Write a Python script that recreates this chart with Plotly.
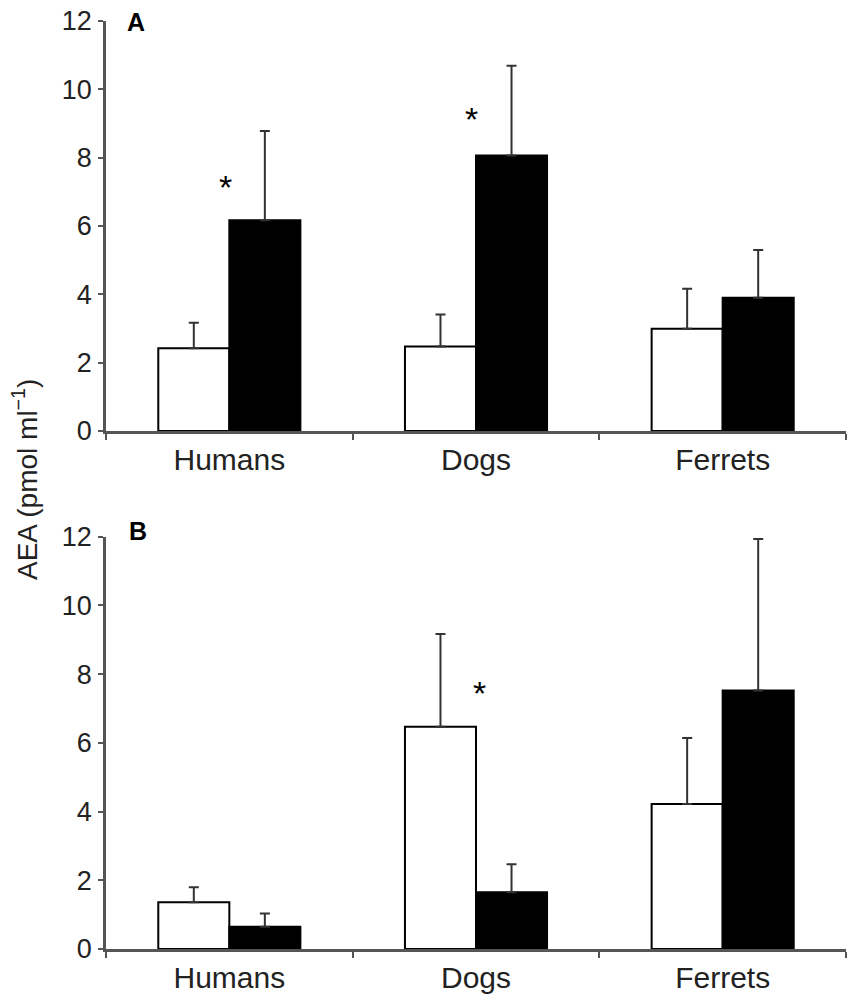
import plotly.graph_objects as go

categories = ["Humans", "Dogs", "Ferrets"]

# Panel A
a_white = [2.42, 2.47, 2.99]
a_white_err = [0.75, 0.94, 1.17]
a_black = [6.17, 8.06, 3.90]
a_black_err = [2.61, 2.63, 1.40]

# Panel B
b_white = [1.36, 6.47, 4.22]
b_white_err = [0.44, 2.70, 1.92]
b_black = [0.65, 1.65, 7.52]
b_black_err = [0.38, 0.82, 4.41]

y_ticks = [0, 2, 4, 6, 8, 10, 12]
y_title = "AEA (pmol ml<sup>\u22121</sup>)"

FONT = "Liberation Sans, Arial, sans-serif"
AX = "#555555"
TXT = "#222222"

fig = go.Figure()

def add_pair(white, werr, black, berr, xa, ya):
    for vals, errs, fill in ((white, werr, "white"), (black, berr, "black")):
        fig.add_trace(go.Bar(
            x=categories, y=vals, xaxis=xa, yaxis=ya,
            marker=dict(color=fill, line=dict(color="black", width=2)),
            error_y=dict(type="data", symmetric=False, array=errs,
                         arrayminus=[0] * len(errs), color="#333333",
                         thickness=2, width=5),
            showlegend=False,
        ))

add_pair(a_white, a_white_err, a_black, a_black_err, "x", "y")
add_pair(b_white, b_white_err, b_black, b_black_err, "x2", "y2")

xcommon = dict(type="category", categoryorder="array", categoryarray=categories,
               showline=True, linecolor=AX, linewidth=2.5, ticks="outside",
               tickson="boundaries", ticklen=6, tickwidth=2, tickcolor=AX,
               showgrid=False, zeroline=False, automargin=False,
               ticklabeloverflow="allow",
               tickfont=dict(family=FONT, size=30, color=TXT), range=[-0.5, 2.5])
ycommon = dict(range=[0, 12], tickvals=y_ticks, ticktext=[str(v) for v in y_ticks],
               showline=True, linecolor=AX, linewidth=2.5, ticks="outside",
               ticklen=5, tickwidth=2, tickcolor=AX, showgrid=False, zeroline=False,
               automargin=False, ticklabeloverflow="allow",
               tickfont=dict(family=FONT, size=27, color=TXT), ticklabelstandoff=1)

OFF = 8  # page body margin

fig.update_layout(
    width=859, height=1000,
    margin=dict(l=98, r=21, t=13, b=59, autoexpand=False),
    plot_bgcolor="white", paper_bgcolor="white",
    barmode="group", bargap=0.424, bargroupgap=0,
    xaxis=dict(xcommon, domain=[0, 1], anchor="y"),
    yaxis=dict(ycommon, domain=[0.5582, 1], anchor="x"),
    xaxis2=dict(xcommon, domain=[0, 1], anchor="y2"),
    yaxis2=dict(ycommon, domain=[0, 0.4443], anchor="x2"),
)

def py(t):
    return (941 - (t - OFF)) / 928

def px(t):
    return ((t - OFF) - 98) / 740

annotations = [
    dict(text="<b>A</b>", xref="paper", yref="paper", x=px(125), y=py(22),
         xanchor="left", yanchor="middle", showarrow=False,
         font=dict(family=FONT, size=25, color="black")),
    dict(text="<b>B</b>", xref="paper", yref="paper", x=px(127), y=py(531),
         xanchor="left", yanchor="middle", showarrow=False,
         font=dict(family=FONT, size=25, color="black")),
    dict(text=y_title, xref="paper", yref="paper", x=px(25),
         y=py(480), textangle=-90, showarrow=False,
         xanchor="center", yanchor="middle",
         font=dict(family=FONT, size=28, color=TXT)),
]
# significance markers
for xr, yr, cat, yv, xs in (("x", "y", "Humans", 7.26, -4), ("x", "y", "Dogs", 9.25, -5),
                            ("x2", "y2", "Dogs", 7.56, 3)):
    annotations.append(dict(text="*", xref=xr, yref=yr, x=cat, y=yv, xshift=xs,
                            yshift=-4, showarrow=False,
                            font=dict(family=FONT, size=34, color="black")))
fig.update_layout(annotations=annotations)

fig.write_html("out.html")
